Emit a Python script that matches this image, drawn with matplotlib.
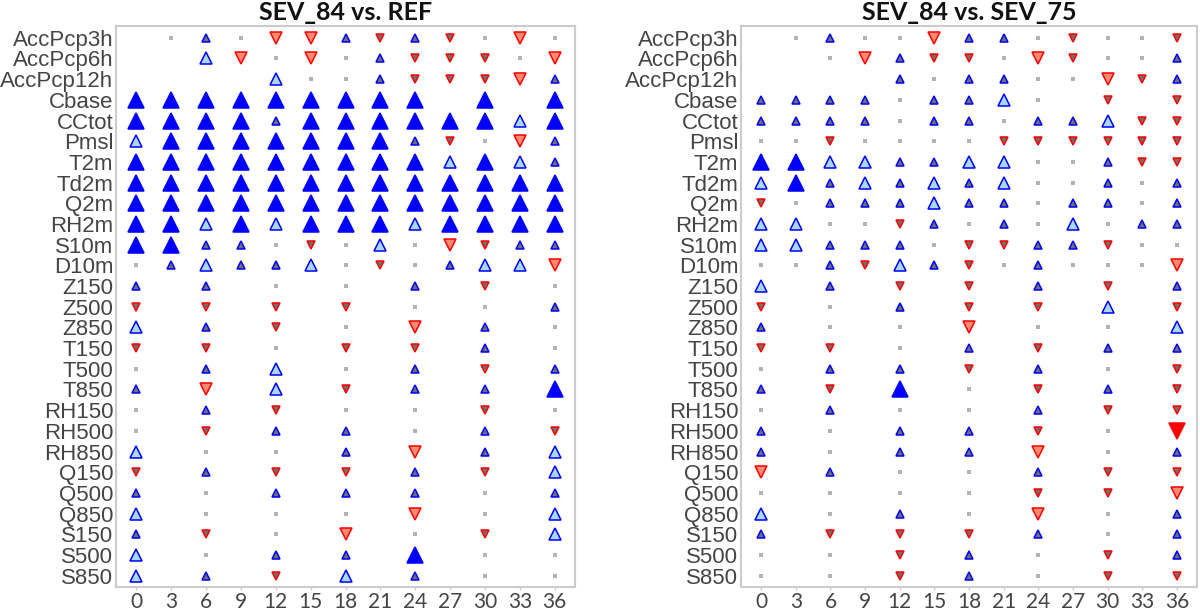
import matplotlib
matplotlib.use("Agg")
import matplotlib.pyplot as plt

# ---------------------------------------------------------
# Scorecard data
#   0 = not significant, +1/+2/+3 = better (small/medium/large),
#   -1/-2/-3 = worse, None = no data
# ---------------------------------------------------------
variables = ["AccPcp3h", "AccPcp6h", "AccPcp12h", "Cbase", "CCtot", "Pmsl",
             "T2m", "Td2m", "Q2m", "RH2m", "S10m", "D10m",
             "Z150", "Z500", "Z850", "T150", "T500", "T850",
             "RH150", "RH500", "RH850", "Q150", "Q500", "Q850",
             "S150", "S500", "S850"]
lead_hours = [0, 3, 6, 9, 12, 15, 18, 21, 24, 27, 30, 33, 36]
upper_hours = [0, 6, 12, 18, 24, 30, 36]
N = None

ref_rows = [
    [N, 0, 1, 0, -2, -2, 1, -1, 1, -1, 0, -2, 0],
    [N, N, 2, -2, 0, -2, 0, 1, -1, -1, -1, 0, -2],
    [N, N, N, N, 2, 0, 0, 1, -1, -1, -1, -2, 1],
    [3, 3, 3, 3, 3, 3, 3, 3, 3, N, 3, N, 3],
    [3, 3, 3, 3, 1, 3, 3, 3, 3, 3, 3, 2, 3],
    [2, 3, 3, 3, 3, 3, 3, 3, 1, -1, 0, -2, 1],
    [3, 3, 3, 3, 3, 3, 3, 3, 3, 2, 3, 2, 1],
    [3, 3, 3, 3, 3, 3, 3, 3, 3, 3, 3, 3, 3],
    [3, 3, 3, 3, 3, 3, 3, 3, 3, 3, 3, 3, 3],
    [3, 3, 2, 3, 2, 3, 3, 3, 2, 3, 3, 3, 3],
    [3, 3, 1, 1, 0, -1, 0, 2, 0, -2, -1, 1, 1],
    [0, 1, 2, 1, 1, 2, 0, -1, 0, 1, 2, 2, -2],
    [1, 1, 0, 0, 1, -1, 0],
    [-1, -1, -1, -1, 0, 0, 1],
    [2, 1, -1, 0, -2, 1, 0],
    [-1, -1, 0, -1, -1, 1, 0],
    [0, 1, 2, 0, 1, -1, 1],
    [1, -2, 2, -1, 1, 1, 3],
    [0, 1, -1, 0, 0, -1, 0],
    [0, -1, 1, 1, 0, 1, -1],
    [2, 0, 0, 1, -2, 1, 2],
    [-1, 1, -1, -1, 1, -1, 2],
    [1, 0, 1, 1, 1, 0, 1],
    [2, 0, 0, 0, -2, 0, 2],
    [1, -1, 0, -2, 0, -1, 2],
    [2, 0, 1, 1, 3, 0, 0],
    [2, 1, -1, 2, 1, 0, 0],
]

sev75_rows = [
    [N, 0, 1, 0, 0, -2, 1, 1, 0, -1, 0, 0, -1],
    [N, N, 0, -2, 1, -1, -1, 0, -2, -1, 0, 0, 1],
    [N, N, N, N, 1, 0, 1, 1, 0, 0, -2, -1, 1],
    [1, 1, 1, 1, 0, 1, 1, 2, 0, N, -1, N, -1],
    [1, 1, 1, 1, 0, 1, 1, 0, 1, 1, 2, -1, -1],
    [0, 0, -1, 0, 0, 0, 0, -1, -1, -1, -1, -1, -1],
    [3, 3, 2, 2, 1, 1, 2, 2, 0, 0, 1, -1, -1],
    [2, 3, 1, 2, 1, 2, 1, 2, 0, 0, 1, 0, 1],
    [-1, 0, 1, 1, 1, 2, 1, 1, 0, 1, 1, 0, 1],
    [2, 2, 0, 0, -1, 1, 0, 1, 0, 2, 0, 1, 1],
    [2, 2, 1, 1, 1, 0, -1, -1, 1, 1, -1, 0, 0],
    [0, 0, 1, -1, 2, 1, -1, 0, 1, 0, 0, 0, -2],
    [2, 1, -1, -1, 1, -1, 1],
    [-1, 0, 1, -1, -1, 2, -1],
    [1, 0, 0, -2, 0, 0, 2],
    [-1, -1, 0, 1, -1, 1, 1],
    [0, 1, 1, -1, 1, 0, -1],
    [1, -1, 3, 0, -1, 1, -1],
    [0, 1, 0, 0, 1, -1, -1],
    [1, 0, 1, 1, -1, 0, -3],
    [1, 0, 1, 1, -2, 0, 1],
    [-2, 1, 0, 0, 1, -1, -1],
    [0, 0, 0, 0, -1, -1, -2],
    [2, 0, 1, 0, -2, 0, 1],
    [1, -1, -1, -1, 1, 0, 1],
    [0, 0, -1, 1, 0, -1, 1],
    [0, 0, -1, 1, 0, -1, -1],
]

panel_titles = ["SEV_84 vs. REF", "SEV_84 vs. SEV_75"]

# marker style per score code: (marker, size, face, edge)
BLUE = "#0000ff"
RED = "#ff0000"
styles = {
    0: ("s", 3.0, "#b3b3b3", "none"),
    1: ("^", 5.5, "#707070", BLUE),
    2: ("^", 8.5, "#a9d8ee", BLUE),
    3: ("^", 12.0, BLUE, BLUE),
    -1: ("v", 5.5, "#707070", RED),
    -2: ("v", 8.5, "#fa8a72", RED),
    -3: ("v", 12.0, RED, RED),
}


def draw_panel(ax, rows, title):
    for code, (marker, size, face, edge) in styles.items():
        xs, ys = [], []
        for i, row in enumerate(rows):
            hours = lead_hours if len(row) == len(lead_hours) else upper_hours
            for h, v in zip(hours, row):
                if v == code:
                    xs.append(h)
                    ys.append(i)
        ax.plot(xs, ys, linestyle="none", marker=marker, markersize=size,
                markerfacecolor=face, markeredgecolor=edge,
                markeredgewidth=1.1)

    ax.set_xlim(-1.75, 37.75)
    ax.set_ylim(len(variables) - 0.45, -0.57)
    ax.set_xticks(lead_hours)
    ax.set_xticklabels([str(h) for h in lead_hours], family="Lato",
                       fontsize=15, color="#444444")
    ax.set_yticks(range(len(variables)))
    ax.set_yticklabels(variables, family="Liberation Sans",
                       fontsize=16, color="#444444")
    ax.tick_params(axis="y", length=0, pad=2)
    ax.tick_params(axis="x", length=2.5, width=1, color="#cccccc", pad=1)
    for sp in ax.spines.values():
        sp.set_color("#cccccc")
        sp.set_linewidth(1.5)
    ax.set_title(title, family="Lato", fontweight="bold", fontsize=18,
                 color="#111111", pad=4)


fig = plt.figure(figsize=(12, 6.13), dpi=100)
fig.patch.set_facecolor("white")
ax_left = fig.add_axes([116 / 1200, 26 / 613, 459 / 1200, 561 / 613])
ax_right = fig.add_axes([741 / 1200, 26 / 613, 456 / 1200, 561 / 613])

draw_panel(ax_left, ref_rows, panel_titles[0])
draw_panel(ax_right, sev75_rows, panel_titles[1])

fig.savefig("out.png", dpi=100, facecolor="white")
